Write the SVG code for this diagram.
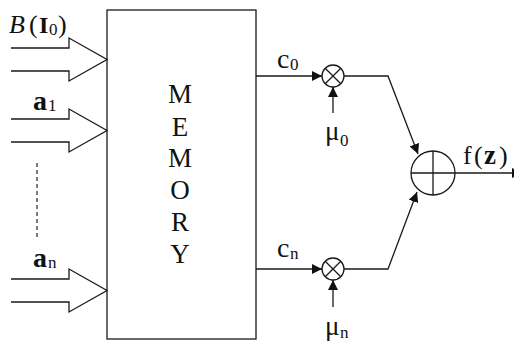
<svg xmlns="http://www.w3.org/2000/svg" width="514" height="342" viewBox="0 0 514 342">
<style>
.ln{fill:none;stroke:#1a1a1a;stroke-width:1.3}
.in{fill:#fff;stroke:#1a1a1a;stroke-width:1.3}
.t{font-family:"Liberation Serif","Times New Roman",serif;fill:#111}
.big{font-size:28px}
.sub{font-size:17px}
.mem{font-size:27px;text-anchor:middle}
</style>
<defs>
<marker id="ah" viewBox="0 0 10 10" refX="10" refY="5" markerWidth="10" markerHeight="10" markerUnits="userSpaceOnUse" orient="auto">
<path d="M0,0 L10,5 L0,10 Z" fill="#111"/>
</marker>
</defs>
<rect width="514" height="342" fill="#fff"/>

<g id="memory">
<rect x="107" y="10" width="149" height="329" class="ln"/>
<text class="t mem" x="180" y="103">M</text>
<text class="t mem" x="180" y="136">E</text>
<text class="t mem" x="180" y="167">M</text>
<text class="t mem" x="180" y="199">O</text>
<text class="t mem" x="180" y="231">R</text>
<text class="t mem" x="180" y="263">Y</text>
</g>

<g id="input-B">
<path class="in" d="M11,48 H69 V38 L107,59.5 L69,81 V71 H11"/>
<text class="t" x="9" y="33" font-size="26" font-style="italic">B</text>
<text class="t" x="29" y="33" font-size="26">(</text>
<text class="t" x="39" y="33" font-size="24" font-weight="bold">I</text>
<text class="t sub" x="49" y="35">0</text>
<text class="t" x="58" y="33" font-size="26">)</text>
</g>

<g id="input-a1">
<path class="in" d="M11,119 H69 V109 L107,130.5 L69,152 V142 H11"/>
<text class="t big" x="33" y="110" font-weight="bold">a</text>
<text class="t sub" x="48" y="111">1</text>
</g>

<g id="input-an">
<path class="in" d="M11,279 H69 V269 L107,290.5 L69,312 V302 H11"/>
<text class="t big" x="33" y="267" font-weight="bold">a</text>
<text class="t sub" x="48" y="268">n</text>
</g>

<g id="dots">
<line x1="37" y1="163" x2="37" y2="238" stroke="#333" stroke-width="1.3" stroke-dasharray="4,3"/>
</g>

<g id="mult0">
<circle cx="333" cy="76" r="11" class="ln"/>
<path class="ln" d="M325.2,68.2 L340.8,83.8 M340.8,68.2 L325.2,83.8"/>
<text class="t big" x="277" y="68">c</text>
<text class="t sub" x="290" y="70">0</text>
<text class="t" x="325" y="140" font-size="27">μ</text>
<text class="t sub" x="340" y="146">0</text>
</g>

<g id="multn">
<circle cx="333" cy="269" r="11" class="ln"/>
<path class="ln" d="M325.2,261.2 L340.8,276.8 M340.8,261.2 L325.2,276.8"/>
<text class="t big" x="277" y="257">c</text>
<text class="t sub" x="290" y="259">n</text>
<text class="t" x="325" y="335" font-size="27">μ</text>
<text class="t sub" x="340" y="338">n</text>
</g>

<g id="sum">
<circle cx="433" cy="173" r="22" class="ln"/>
<path class="ln" d="M411,173 H455 M433,151 V195"/>
<text class="t" x="463" y="164" font-size="26">f</text>
<text class="t" x="474" y="164" font-size="26">(</text>
<text class="t" x="484" y="164" font-size="27" font-weight="bold">z</text>
<text class="t" x="499" y="164" font-size="26">)</text>
</g>

<g id="connectors">
<line class="ln" x1="256" y1="76" x2="322" y2="76" marker-end="url(#ah)"/>
<line class="ln" x1="256" y1="269" x2="322" y2="269" marker-end="url(#ah)"/>
<line class="ln" x1="333" y1="113" x2="333" y2="87" marker-end="url(#ah)"/>
<line class="ln" x1="333" y1="307" x2="333" y2="280" marker-end="url(#ah)"/>
<polyline class="ln" points="344,76 388,76 418,154" marker-end="url(#ah)"/>
<polyline class="ln" points="344,269 388,269 417,192" marker-end="url(#ah)"/>
<line class="ln" x1="455" y1="173" x2="522" y2="173" marker-end="url(#ah)"/>
</g>
</svg>
